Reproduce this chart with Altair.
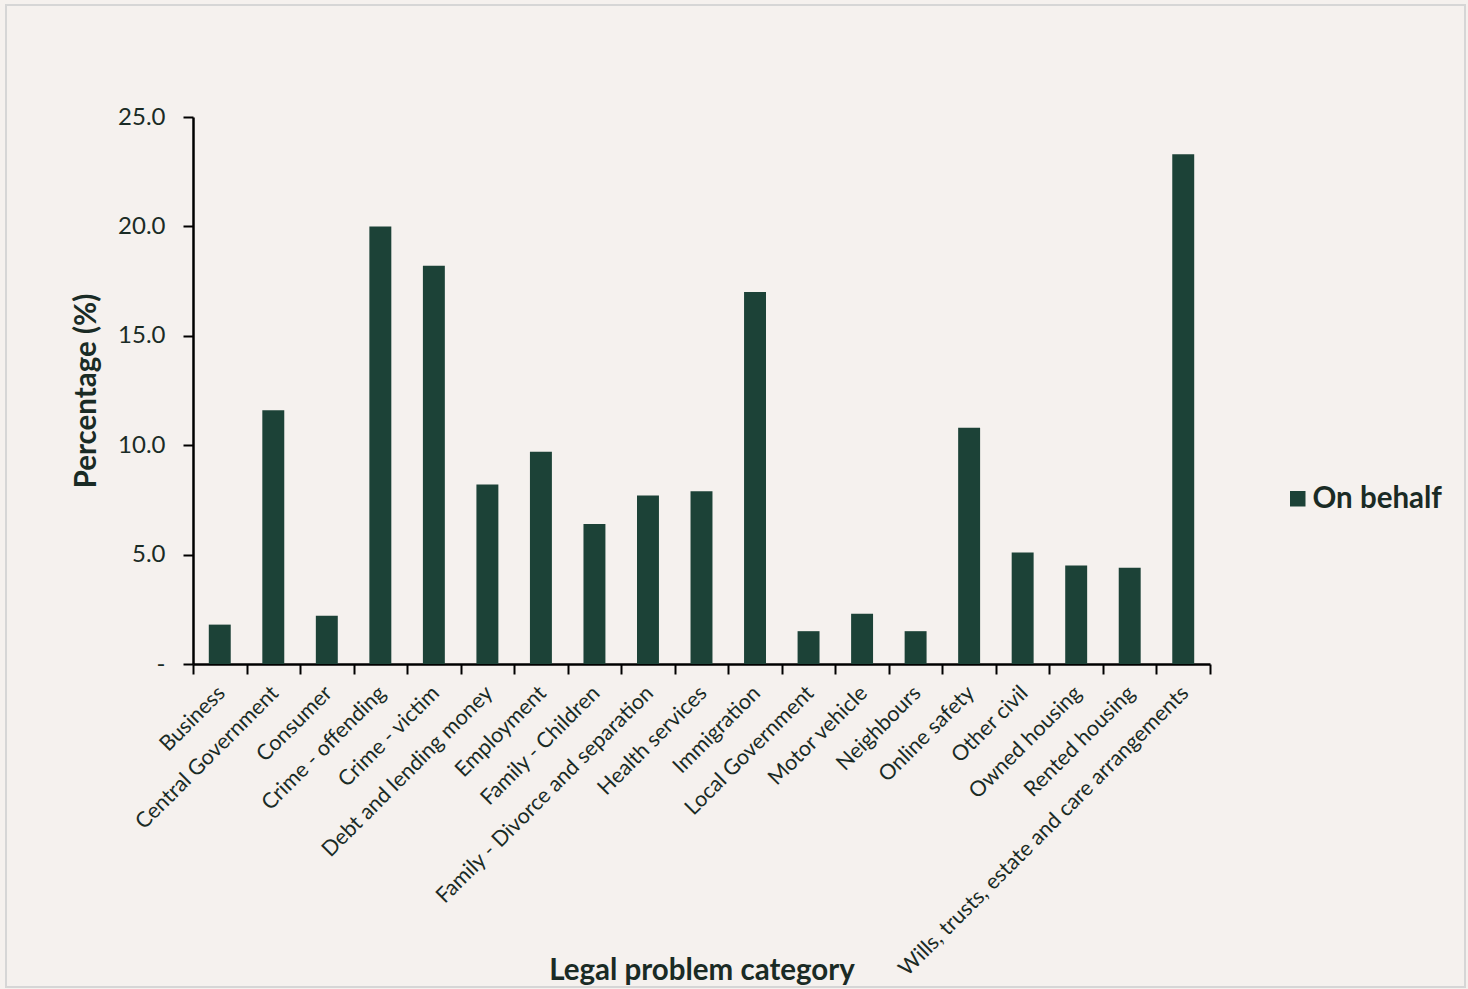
import altair as alt
import pandas as pd

categories = [
    "Business", "Central Government", "Consumer", "Crime - offending", "Crime - victim",
    "Debt and lending money", "Employment", "Family - Children", "Family - Divorce and separation",
    "Health services", "Immigration", "Local Government", "Motor vehicle", "Neighbours",
    "Online safety", "Other civil", "Owned housing", "Rented housing",
    "Wills, trusts, estate and care arrangements",
]
values = [1.8, 11.6, 2.2, 20.0, 18.2, 8.2, 9.7, 6.4, 7.7, 7.9, 17.0, 1.5, 2.3, 1.5, 10.8, 5.1, 4.5, 4.4, 23.3]
series = ["On behalf"] * len(categories)

df = pd.DataFrame({"category": categories, "value": values, "series": series})

FONT = "Lato"
TXT = "#1a2b25"
BAR = "#1c4237"

bars = alt.Chart(df).mark_bar(color=BAR, width=alt.RelativeBandSize(0.41)).encode(
    x=alt.X("category:N", sort=categories, title="Legal problem category",
            scale=alt.Scale(paddingInner=0, paddingOuter=0),
            axis=alt.Axis(labelAngle=-45, labelFontSize=21.5, labelPadding=8, labelLimit=0,
                          labelOffset=-6,
                          tickBand="extent", tickSize=10, tickWidth=2, tickColor="black",
                          domainColor="black", domainWidth=2.5,
                          titleFontSize=29.5, titleFontWeight="bold", titleY=306,
                          titleBaseline="middle")),
    y=alt.Y("value:Q", title="Percentage (%)",
            scale=alt.Scale(domain=[0, 25]),
            axis=alt.Axis(values=[0, 5, 10, 15, 20, 25], grid=False,
                          labelExpr="datum.value == 0 ? '-' : format(datum.value, '.1f')",
                          labelFontSize=24, labelPadding=18, tickSize=10, tickWidth=2,
                          tickColor="black", domainColor="black", domainWidth=2.5,
                          titleFontSize=29.5, titleFontWeight="bold", titlePadding=16)),
    fill=alt.Fill("series:N", scale=alt.Scale(range=[BAR]),
                  legend=alt.Legend(title=None, orient="none", legendX=1090, legendY=367,
                                    symbolType="square", symbolSize=240, labelFontSize=29.5,
                                    labelFontWeight="bold", symbolStrokeWidth=0, labelOffset=0)),
)

border = alt.Chart(pd.DataFrame({"a": [0]})).mark_rect(
    fill=None, stroke="#d6d6d6", strokeWidth=2
).encode(x=alt.value(-187), x2=alt.value(1272), y=alt.value(-112), y2=alt.value(870))

chart = alt.layer(border, bars).properties(
    width=1017, height=547,
    autosize=alt.AutoSizeParams(type="none"),
    padding={"left": 193, "top": 117, "right": 258, "bottom": 325},
    background="#f5f1ee",
    view=alt.ViewBackground(stroke=None, strokeWidth=0),
).configure_view(stroke=None, strokeWidth=0).configure(
    font=FONT,
).configure_axis(
    labelColor=TXT, titleColor=TXT, labelFont=FONT, titleFont=FONT,
).configure_legend(labelColor=TXT, labelFont=FONT)

chart.save("out.html", embed_options={"renderer": "svg", "actions": False})
